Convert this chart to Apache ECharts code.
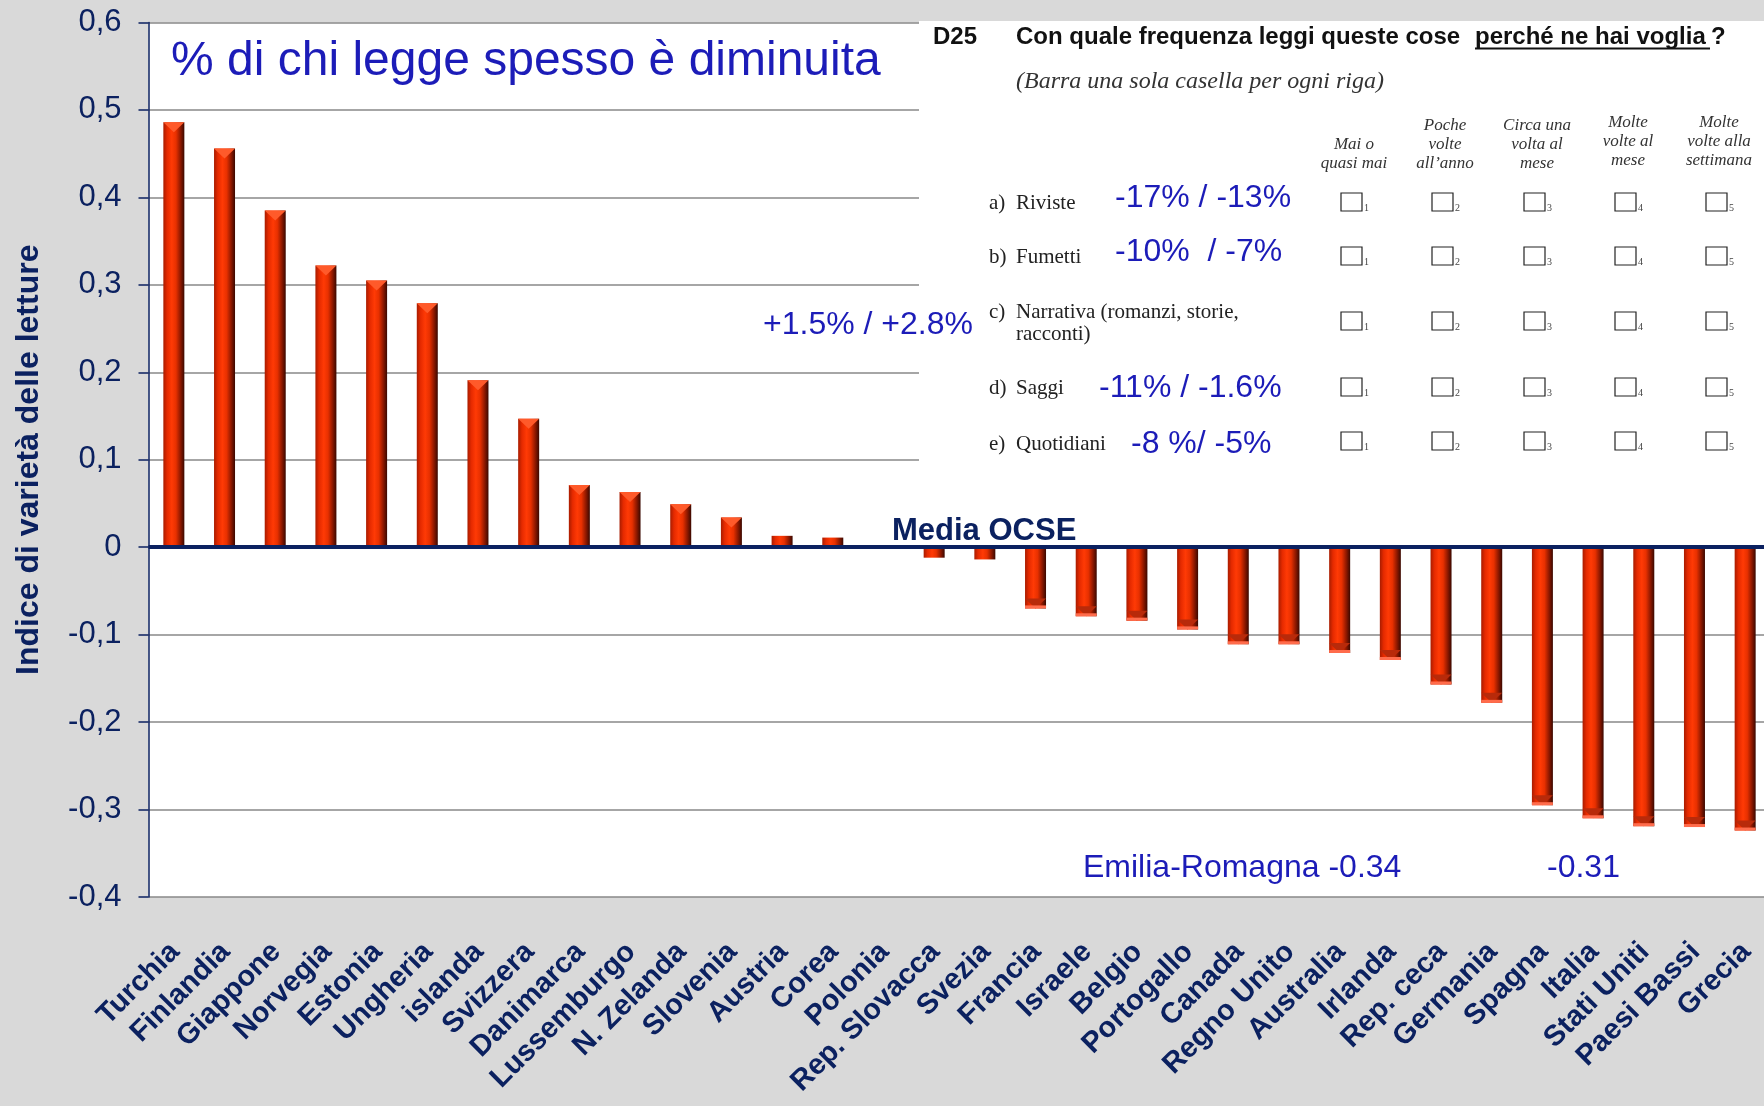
<!DOCTYPE html>
<html>
<head>
<meta charset="utf-8">
<title>Indice di varietà delle letture</title>
<script src="https://cdn.jsdelivr.net/npm/echarts@6/dist/echarts.min.js"></script>
<style>
  html, body { margin: 0; padding: 0; background: #d9d9d9; }
  #chart { width: 1764px; height: 1106px; }
</style>
</head>
<body>
<div id="chart"></div>
<script>
// dati (indice di varietà delle letture, differenza dalla media OCSE)
var paesi = ['Turchia', 'Finlandia', 'Giappone', 'Norvegia', 'Estonia', 'Ungheria', 'islanda', 'Svizzera',
  'Danimarca', 'Lussemburgo', 'N. Zelanda', 'Slovenia', 'Austria', 'Corea', 'Polonia', 'Rep. Slovacca',
  'Svezia', 'Francia', 'Israele', 'Belgio', 'Portogallo', 'Canada', 'Regno Unito', 'Australia', 'Irlanda',
  'Rep. ceca', 'Germania', 'Spagna', 'Italia', 'Stati Uniti', 'Paesi Bassi', 'Grecia'];
var indice = [0.486, 0.456, 0.385, 0.322, 0.305, 0.279, 0.191, 0.147,
  0.071, 0.063, 0.049, 0.034, 0.013, 0.011, 0.000, -0.012,
  -0.014, -0.070, -0.079, -0.084, -0.094, -0.111, -0.111, -0.121, -0.129,
  -0.157, -0.178, -0.295, -0.310, -0.319, -0.320, -0.324];
var yMin = -0.4, yMax = 0.6, yStep = 0.1;

// testi del riquadro con la domanda D25
var righePrefisso = ['a)', 'b)', 'c)', 'd)', 'e)'];
var righeNome = ['Riviste', 'Fumetti', 'Narrativa (romanzi, storie,\nracconti)', 'Saggi', 'Quotidiani'];
var righeVariazione = ['-17% / -13%', '-10%  / -7%', '', '-11% / -1.6%', '-8 %/ -5%'];
var colonne = ['Mai o\nquasi mai', 'Poche\nvolte\nall\u2019anno', 'Circa una\nvolta al\nmese', 'Molte\nvolte al\nmese', 'Molte\nvolte alla\nsettimana'];

var navy = '#0b2160';
var blu = '#1c1cb8';
var sans = 'Liberation Sans, Arial, sans-serif';
var serif = 'Liberation Serif, Times New Roman, serif';

// posizioni del riquadro (pixel)
var rigaY = [203, 257, 312, 388, 444];
var boxTop = [193, 247, 312, 378, 432];
var colBoxX = [1341, 1432, 1524, 1615, 1706];
var colCentro = [1354, 1445, 1537, 1628, 1719];
var varX = [1115, 1115, 0, 1099, 1131];

function testo(x, y, t, st) {
  return {
    type: 'text', x: x, y: y, z: 20, silent: true,
    style: Object.assign({ text: t, fontFamily: sans, fontSize: 32, fill: blu, align: 'left', verticalAlign: 'middle' }, st || {})
  };
}

var grafica = [];
// riquadro bianco con il questionario
grafica.push({ type: 'rect', z: 10, silent: true, shape: { x: 919, y: 21, width: 845, height: 449 }, style: { fill: '#fff' } });
var domanda = { fontSize: 24, fontWeight: 'bold', fill: '#111' };
grafica.push(testo(933, 37, 'D25', domanda));
grafica.push(testo(1016, 37, 'Con quale frequenza leggi queste cose', domanda));
grafica.push(testo(1475, 37, 'perché ne hai voglia', domanda));
grafica.push(testo(1711, 37, '?', domanda));
grafica.push({ type: 'line', z: 20, silent: true, shape: { x1: 1475, y1: 48.5, x2: 1710, y2: 48.5 }, style: { stroke: '#111', lineWidth: 2 } });
grafica.push(testo(1016, 82, '(Barra una sola casella per ogni riga)', { fontFamily: serif, fontStyle: 'italic', fontSize: 24, fill: '#333' }));
colonne.forEach(function (c, j) {
  var bottom = j >= 3 ? 170 : 173;
  grafica.push(testo(colCentro[j], bottom, c, { fontFamily: serif, fontStyle: 'italic', fontSize: 17, lineHeight: 19, fill: '#333', align: 'center', verticalAlign: 'bottom' }));
});
righeNome.forEach(function (r, i) {
  grafica.push(testo(989, rigaY[i], righePrefisso[i], { fontFamily: serif, fontSize: 21, fill: '#222' }));
  grafica.push(testo(1016, i === 2 ? rigaY[i] - 11 : rigaY[i], r, { fontFamily: serif, fontSize: 21, lineHeight: 22, fill: '#222', verticalAlign: i === 2 ? 'top' : 'middle' }));
  if (righeVariazione[i]) {
    grafica.push(testo(varX[i], rigaY[i] - 5 + (i >= 3 ? 5 : 0), righeVariazione[i]));
  }
  colBoxX.forEach(function (bx, j) {
    grafica.push({ type: 'rect', z: 20, silent: true, shape: { x: bx, y: boxTop[i], width: 21, height: 18 }, style: { fill: 'none', stroke: '#222', lineWidth: 1.2 } });
    grafica.push(testo(bx + 23, boxTop[i] + 20, String(j + 1), { fontFamily: serif, fontSize: 10, fill: '#444', verticalAlign: 'bottom' }));
  });
});
// annotazioni sul grafico
grafica.push(testo(763, 325, '+1.5% / +2.8%'));
grafica.push(testo(1083, 868, 'Emilia-Romagna -0.34'));
grafica.push(testo(1547, 868, '-0.31'));
grafica.push(testo(892, 531, 'Media OCSE', { fontWeight: 'bold', fontSize: 31, fill: navy }));

// effetto "piramide" alle estremità delle barre (solo barre abbastanza lunghe)
var capPos = indice.map(function (v) { return v > 0.02 ? v : '-'; });
var capNeg = indice.map(function (v) { return v < -0.02 ? v : '-'; });

var chart = echarts.init(document.getElementById('chart'));
var option = {
  backgroundColor: '#d9d9d9',
  animation: false,
  title: {
    text: '% di chi legge spesso è diminuita',
    left: 171, top: 38, padding: 0,
    textStyle: { fontFamily: sans, fontSize: 48, fontWeight: 'normal', color: blu }
  },
  grid: {
    left: 148.5, top: 22.5, width: 1622, height: 874.5,
    containLabel: false, outerBoundsMode: 'none',
    show: true, backgroundColor: '#fff', borderWidth: 0
  },
  xAxis: {
    type: 'category',
    data: paesi,
    axisLine: { show: false, onZero: false },
    axisTick: { show: false },
    splitLine: { show: false },
    axisLabel: {
      interval: 0, rotate: 45, margin: 31, verticalAlign: 'top', padding: [0, 13, 0, 0],
      fontFamily: sans, fontSize: 29, fontWeight: 'bold', color: navy
    }
  },
  yAxis: {
    type: 'value',
    min: yMin, max: yMax, interval: yStep,
    name: 'Indice di varietà delle letture',
    nameLocation: 'middle', nameGap: 103, nameRotate: 90,
    nameTextStyle: { fontFamily: sans, fontSize: 32, fontWeight: 'bold', color: navy },
    axisLine: { show: true, lineStyle: { color: navy, width: 1.5 } },
    axisTick: { show: true, length: 10, lineStyle: { color: navy, width: 1.5 } },
    axisLabel: {
      margin: 27, fontFamily: sans, fontSize: 31, color: navy,
      formatter: function (v) {
        if (Math.abs(v) < 1e-9) return '0';
        return (Math.round(v * 10) / 10).toFixed(1).replace('.', ',');
      }
    },
    splitLine: { show: true, lineStyle: { color: '#888', width: 1.5 } }
  },
  series: [
    {
      name: 'indice',
      type: 'bar',
      data: indice,
      barWidth: 21,
      z: 2,
      itemStyle: {
        color: new echarts.graphic.LinearGradient(0, 0, 1, 0, [
          { offset: 0, color: '#a81c00' },
          { offset: 0.18, color: '#e52a00' },
          { offset: 0.4, color: '#ff3a05' },
          { offset: 0.6, color: '#e83000' },
          { offset: 0.82, color: '#8c1800' },
          { offset: 1, color: '#3a0800' }
        ])
      },
      markLine: {
        silent: true,
        symbol: ['none', 'none'],
        label: { show: false },
        lineStyle: { color: navy, width: 4, type: 'solid' },
        data: [{ yAxis: 0 }]
      }
    },
    {
      name: 'punta',
      type: 'pictorialBar',
      data: capPos,
      symbol: 'triangle',
      symbolRotate: 180,
      symbolSize: [21, 10],
      symbolPosition: 'end',
      z: 3,
      itemStyle: { color: '#ff5a2a' }
    },
    {
      name: 'base',
      type: 'pictorialBar',
      data: capNeg,
      symbol: 'triangle',
      symbolSize: [21, 10],
      symbolPosition: 'end',
      z: 3,
      itemStyle: { color: '#b82a0a' }
    },
    {
      name: 'bordo',
      type: 'pictorialBar',
      data: capNeg,
      symbol: 'rect',
      symbolSize: [21, 3],
      symbolPosition: 'end',
      z: 4,
      itemStyle: { color: '#ff6c4c' }
    }
  ],
  graphic: grafica
};
chart.setOption(option);
</script>
</body>
</html>
